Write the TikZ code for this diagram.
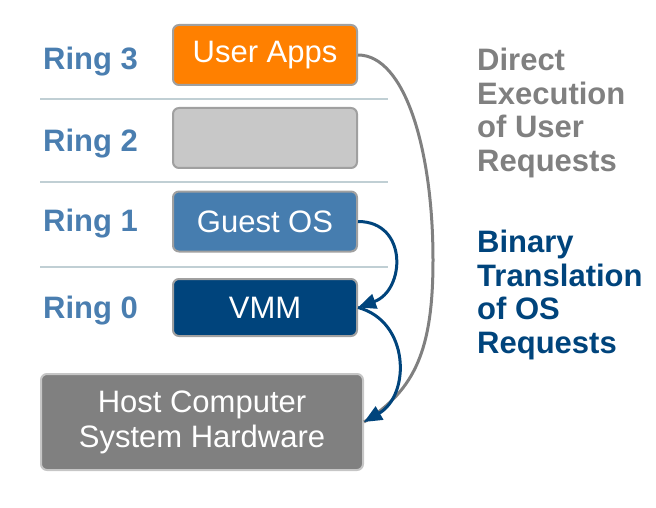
\documentclass[tikz,border=0pt]{standalone}
\usepackage{fontspec}
\setmainfont{Liberation Sans}
\usetikzlibrary{arrows.meta}

\definecolor{appsorange}{RGB}{255,128,0}
\definecolor{emptygray}{RGB}{200,200,200}
\definecolor{guestblue}{RGB}{70,125,175}
\definecolor{vmmblue}{RGB}{0,68,124}
\definecolor{hostgray}{RGB}{128,128,128}
\definecolor{boxedge}{RGB}{160,160,160}
\definecolor{ringblue}{RGB}{74,126,176}
\definecolor{sepline}{RGB}{192,207,212}
\definecolor{notegray}{RGB}{128,128,128}

\begin{document}
\begin{tikzpicture}[x=1pt,y=-1pt,
    ringbox/.style={draw=boxedge,line width=2pt,rounded corners=6pt,
      minimum width=184pt,minimum height=60pt,text=white,
      font=\fontsize{31}{35}\selectfont},
    ringlabel/.style={anchor=base west,inner sep=0pt,text=ringblue,
      font=\fontsize{31}{35}\selectfont\bfseries},
    note/.style={anchor=north west,inner sep=0pt,align=left,
      font=\fontsize{31}{33.5}\selectfont\bfseries}]
        \useasboundingbox (0,0) rectangle (656,508);
        \begin{scope}[>={Triangle[length=18pt,width=15pt]}]

          % ring separators
          \draw[sepline,line width=1.5pt] (40,99) -- (388,99);
          \draw[sepline,line width=1.5pt] (40,182) -- (388,182);
          \draw[sepline,line width=1.5pt] (40,267) -- (388,267);

          \node (r3) at (43,70) [ringlabel]{Ring 3};
          \node (r2) at (43,152) [ringlabel]{Ring 2};
          \node (r1) at (43,231) [ringlabel]{Ring 1};
          \node (r0) at (43,318) [ringlabel]{Ring 0};

          \node (ua) at (265,55) [ringbox,fill=appsorange]{User Apps};
          \node (em) at (265,138) [ringbox,fill=emptygray]{};
          \node (gos) at (265,221.5) [ringbox,fill=guestblue]{Guest OS};
          \node (vmm) at (265,307.5) [ringbox,fill=vmmblue,minimum height=57pt]{VMM};
          \node (host) at (202,422) [ringbox,fill=hostgray,draw=boxedge!60,
            minimum width=322pt,minimum height=96pt,align=center]{Host Computer\\System Hardware};

          \node (direct) at (477,48) [note,text=notegray]{Direct\\Execution\\of User\\Requests};
          \node (binary) at (477,230) [note,text=vmmblue]{Binary\\Translation\\of OS\\Requests};

          \coordinate (bend) at (433,260);
          \draw[hostgray,line width=3pt] (ua.east) .. controls (405,55) and (433,150) .. (bend)
            .. controls (433,350) and (415,390) .. (host.east);
          \draw[->,vmmblue,line width=3pt] (gos.east) to[out=0,in=20,looseness=1.5] (vmm.east);
          \draw[->,vmmblue,line width=3pt] (vmm.east) to[out=-15,in=30,looseness=1.2] (host.east);

        \end{scope}
        \end{tikzpicture}
\end{document}
